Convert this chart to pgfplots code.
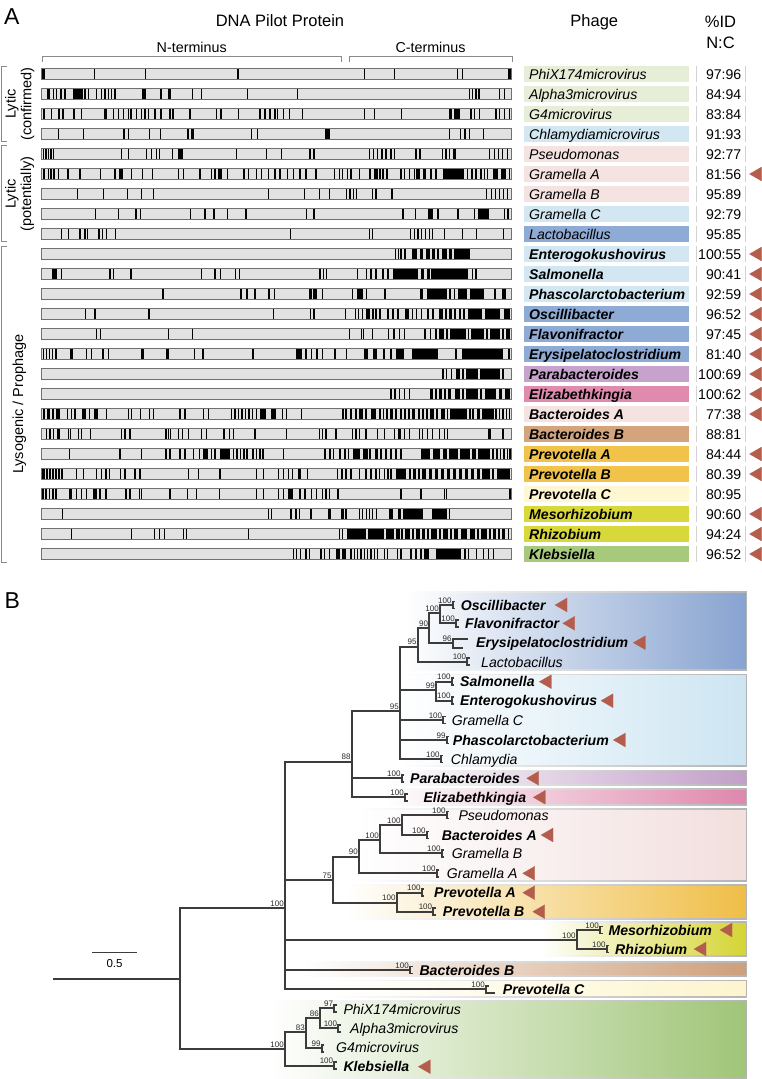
\documentclass[border=0pt]{standalone}
\usepackage{pgfplots}
\pgfplotsset{compat=1.18}
\usepackage{fontspec}
\setmainfont{Liberation Sans}
\definecolor{bardark}{HTML}{707070}
\definecolor{barfill}{HTML}{E2E2E2}
\definecolor{idb}{HTML}{D2D2D2}
\definecolor{cgr}{HTML}{E6EED7}
\definecolor{clb}{HTML}{D3E7F3}
\definecolor{clp}{HTML}{F5E3E2}
\definecolor{cdb}{HTML}{8EABD6}
\definecolor{cpu}{HTML}{C6A2CC}
\definecolor{cpk}{HTML}{E08AAE}
\definecolor{ctan}{HTML}{D4A57D}
\definecolor{cor}{HTML}{F1C34B}
\definecolor{cly}{HTML}{FFF7D1}
\definecolor{cyg}{HTML}{D9D83B}
\definecolor{cgn}{HTML}{A7C97C}
\definecolor{tri}{HTML}{B45D4D}
\definecolor{treec}{HTML}{3C3C3C}
\definecolor{bsc}{HTML}{2A2A2A}
\definecolor{brk}{HTML}{8A8A8A}
\definecolor{boxe}{HTML}{B4B4B4}
\definecolor{tb1}{HTML}{87A3D0}
\definecolor{tb2}{HTML}{CDE5F2}
\definecolor{tb3}{HTML}{C29FC8}
\definecolor{tb4}{HTML}{DE87AC}
\definecolor{tb5}{HTML}{F2DFDE}
\definecolor{tb6}{HTML}{EFBE47}
\definecolor{tb7}{HTML}{D5D433}
\definecolor{tb8}{HTML}{CE9F7A}
\definecolor{tb9}{HTML}{FDF5CE}
\definecolor{tb10}{HTML}{A0C578}
\newcommand\lab{\fontsize{14.1}{16}\selectfont}
\newcommand\hdr{\fontsize{16.5}{19}\selectfont}
\newcommand\tf{\fontsize{14.1}{16}\selectfont}
\newcommand\bsf{\fontsize{8}{9}\selectfont}
\newcommand\arow[4]{%
\addplot[line width=11.4pt, bardark] coordinates {(41.4,#1)(512,#1)};
\addplot[line width=10.2pt, barfill] coordinates {(42,#1)(511.4,#1)};
\addplot[line width=16.6pt, #2] coordinates {(524,#1)(689,#1)};
\addplot[line width=16.6pt, idb] coordinates {(696,#1)(746,#1)};
\addplot[line width=15.4pt, white] coordinates {(696.6,#1)(745.4,#1)};
\node[anchor=base west, inner sep=0pt, yshift=-5.2pt, font=\lab] at (axis cs:529,#1) {#3};
\node[anchor=base east, inner sep=0pt, yshift=-5.2pt, font=\lab] at (axis cs:741.5,#1) {#4};
}
\newcommand\thinrow[2]{\addplot[only marks, mark=|, mark size=5.1pt, line width=1.3pt, black] table[header=false, row sep=\\, x index=0, y expr=#1] {#2};}
\newcommand\blkrow[2]{\addplot[line width=10.2pt, black] table[header=false, row sep=\\, x index=0, y expr=#1] {#2};}
\tikzset{tree/.style={line width=1.8pt, treec, line cap=rect}}
\newcommand\tl[4]{\addplot[tree] coordinates {(#1,#2)(#3,#4)};}
\newcommand\inode[5]{\addplot[tree] coordinates {(#1,#3)(#2,#3)};\addplot[tree] coordinates {(#2,#4)(#2,#5)};}
\newcommand\leaf[3]{\pgfmathsetmacro\lA{#3-3.5}\pgfmathsetmacro\lB{#3+3.5}\pgfmathsetmacro\lC{#2+2.5}%
\addplot[tree] coordinates {(#1,#3)(#2,#3)};\addplot[tree, line cap=butt] coordinates {(\lC,\lA)(#2,\lA)(#2,\lB)(\lC,\lB)};}
\newcommand\bs[3]{\node[anchor=base east, inner sep=0pt, xshift=-1pt, yshift=2pt, font=\bsf, text=bsc] at (axis cs:#1,#2) {#3};}
\newcommand\tlab[4]{\node[anchor=base west, inner sep=0pt, yshift=-5pt, font=\tf#4] at (axis cs:#1,#2) {#3};}
\newcommand\gbox[5]{\pgfmathsetmacro\gA{#3+0.9}\pgfmathsetmacro\gB{#4-0.9}%
\addplot[draw=none, left color=white, right color=#5] coordinates {(#1,#3)(#2,#3)(#2,#4)(#1,#4)} --cycle;
\addplot[draw=none, left color=white, right color=boxe] coordinates {(#1,#3)(#2,#3)(#2,\gA)(#1,\gA)} --cycle;
\addplot[draw=none, left color=white, right color=boxe] coordinates {(#1,\gB)(#2,\gB)(#2,#4)(#1,#4)} --cycle;
\addplot[boxe, line width=0.9pt] coordinates {(#2,#3)(#2,#4)};}
\begin{document}
\begin{tikzpicture}
\begin{axis}[width=762pt,height=1079pt,scale only axis,xmin=0,xmax=762,ymin=0,ymax=1079,y dir=reverse,hide axis,clip=false,unbounded coords=jump]
\addplot[draw=none] coordinates {(0,0)(762,1079)};
% ---------- Panel A headings
\node[anchor=base, inner sep=0pt, font=\fontsize{23}{26}\selectfont] at (axis cs:11.7,24) {A};
\node[anchor=base, inner sep=0pt, font=\hdr] at (axis cs:280,26.7) {DNA Pilot Protein};
\node[anchor=base, inner sep=0pt, font=\hdr] at (axis cs:594.3,26.7) {Phage};
\node[anchor=base, inner sep=0pt, font=\hdr] at (axis cs:720.5,27.3) {\%ID};
\node[anchor=base, inner sep=0pt, font=\hdr] at (axis cs:720.5,48.3) {N:C};
\node[anchor=base, inner sep=0pt, font=\fontsize{14.3}{16}\selectfont] at (axis cs:191.7,52.3) {N-terminus};
\node[anchor=base, inner sep=0pt, font=\fontsize{14.3}{16}\selectfont] at (axis cs:430.5,52.3) {C-terminus};
\addplot[brk, line width=0.9pt] coordinates {(42.7,62)(42.7,56.5)(341,56.5)(341,62)};
\addplot[brk, line width=0.9pt] coordinates {(349.3,62)(349.3,56.5)(512.3,56.5)(512.3,62)};
\addplot[brk, line width=0.9pt] coordinates {(7.3,66.5)(1.5,66.5)(1.5,141.7)(7.3,141.7)};
\addplot[brk, line width=0.9pt] coordinates {(7.3,145.5)(1.5,145.5)(1.5,241.7)(7.3,241.7)};
\addplot[brk, line width=0.9pt] coordinates {(7.3,246)(1.5,246)(1.5,562)(7.3,562)};
\node[rotate=90, inner sep=0pt, font=\fontsize{14.5}{16}\selectfont] at (axis cs:12,104) {Lytic};
\node[rotate=90, inner sep=0pt, font=\fontsize{14.5}{16}\selectfont] at (axis cs:27.5,104) {(confirmed)};
\node[rotate=90, inner sep=0pt, font=\fontsize{14.5}{16}\selectfont] at (axis cs:12,194) {Lytic};
\node[rotate=90, inner sep=0pt, font=\fontsize{14.5}{16}\selectfont] at (axis cs:27.5,194) {(potentially)};
\node[rotate=90, inner sep=0pt, font=\fontsize{14.5}{16}\selectfont] at (axis cs:19.5,404) {Lysogenic / Prophage};
% ---------- rows
\arow{74}{cgr}{\itshape PhiX174microvirus}{97:96}
\arow{94}{cgr}{\itshape Alpha3microvirus}{84:94}
\arow{114}{cgr}{\itshape G4microvirus}{83:84}
\arow{134}{clb}{\itshape Chlamydiamicrovirus}{91:93}
\arow{154}{clp}{\itshape Pseudomonas}{92:77}
\arow{174}{clp}{\itshape Gramella A}{81:56}
\arow{194}{clp}{\itshape Gramella B}{95:89}
\arow{214}{clb}{\itshape Gramella C}{92:79}
\arow{234}{cdb}{\itshape Lactobacillus}{95:85}
\arow{254}{clb}{\bfseries\itshape Enterogokushovirus}{100:55}
\arow{274}{clb}{\bfseries\itshape Salmonella}{90:41}
\arow{294}{clb}{\bfseries\itshape Phascolarctobacterium}{92:59}
\arow{314}{cdb}{\bfseries\itshape Oscillibacter}{96:52}
\arow{334}{cdb}{\bfseries\itshape Flavonifractor}{97:45}
\arow{354}{cdb}{\bfseries\itshape Erysipelatoclostridium}{81:40}
\arow{374}{cpu}{\bfseries\itshape Parabacteroides}{100:69}
\arow{394}{cpk}{\bfseries\itshape Elizabethkingia}{100:62}
\arow{414}{clp}{\bfseries\itshape Bacteroides A}{77:38}
\arow{434}{ctan}{\bfseries\itshape Bacteroides B}{88:81}
\arow{454}{cor}{\bfseries\itshape Prevotella A}{84:44}
\arow{474}{cor}{\bfseries\itshape Prevotella B}{80.39}
\arow{494}{cly}{\bfseries\itshape Prevotella C}{80:95}
\arow{514}{cyg}{\bfseries\itshape Mesorhizobium}{90:60}
\arow{534}{cyg}{\bfseries\itshape Rhizobium}{94:24}
\arow{554}{cgn}{\bfseries\itshape Klebsiella}{96:52}
% ---------- variable-site marks
\thinrow{74}{94.7\\145.7\\238\\364.3\\394.3\\457.7\\462.7\\}
\blkrow{74}{42\\44.5\\nan\\508\\511.4\\}
\thinrow{94}{53.3\\56.7\\61\\65\\85\\88.3\\96.7\\101.7\\105\\108.3\\111.7\\115\\161\\192.7\\201.7\\247.7\\297.7\\469.3\\472.7\\476\\479\\499.5\\504.3\\}
\blkrow{94}{46.5\\50\\nan\\72.5\\82.5\\nan\\141.5\\146\\nan\\168\\171\\}
\thinrow{114}{51.7\\74\\81.7\\113.3\\118.3\\123.3\\128.3\\131\\136.7\\141.7\\145\\148.3\\155\\161\\190\\216.7\\221\\238.3\\260\\265\\270\\275\\277.7\\283.3\\289.3\\302.7\\364.3\\374.3\\401.5\\471\\474.3\\479.3\\496\\499.3\\504.3\\509.3\\}
\blkrow{114}{42.5\\45\\nan\\58.3\\60\\nan\\61.5\\64\\nan\\104\\106.7\\nan\\169\\171\\nan\\172\\173.5\\nan\\449\\451.5\\nan\\454\\460\\}
\thinrow{134}{58.3\\83.3\\124\\128.3\\149.3\\160.7\\251.7\\257.3\\449.3\\460.7\\465\\469.3\\483.3\\}
\blkrow{134}{187\\189\\nan\\190.5\\194\\nan\\325\\329.5\\}
\thinrow{154}{43.5\\46\\48.5\\51\\53.5\\121.7\\128.3\\146.7\\151.7\\156.7\\159.3\\172.7\\236.7\\266.7\\281.5\\310\\314\\369.3\\373.3\\377.7\\382\\386\\391\\394.3\\416\\420\\442.7\\446\\449.3\\489.3\\494.3\\498.7\\502.7\\507.7\\}
\blkrow{154}{178.3\\182.7\\nan\\452.7\\455.5\\}
\thinrow{174}{48.3\\51\\54\\58.3\\80\\100.7\\115\\131.7\\142.7\\152.7\\178.3\\183.3\\200\\211.7\\215\\227.3\\244\\248.3\\256.7\\261.7\\268.3\\275\\280\\287.3\\293.3\\300\\306\\316\\334.3\\339.3\\342.7\\347.7\\351\\359.3\\370\\380\\383\\387\\401\\404.3\\409.3\\414.3\\431\\436\\467.7\\472\\476\\481\\484.3\\487.7\\509.3\\}
\blkrow{174}{42.5\\45\\nan\\66.5\\68.5\\nan\\119\\123\\nan\\218\\222\\nan\\373.5\\377.5\\nan\\416\\419.5\\nan\\422.7\\426\\nan\\442.7\\464.3\\nan\\492.7\\497.7\\nan\\501\\506\\}
\thinrow{194}{77.3\\103.3\\127.3\\141.7\\153.3\\268.3\\304.5\\319.3\\329.5\\346.5\\350\\353.3\\356.5\\372.7\\376\\392\\486.7\\491.2\\495.5\\499.5\\503.5\\507.7\\}
\thinrow{214}{95.7\\118.3\\136\\140.7\\190.7\\205\\214\\227.7\\246\\306.7\\314\\403\\415.3\\438\\458\\474.3\\504.7\\508\\}
\blkrow{214}{428\\432.5\\nan\\478\\489\\}
\thinrow{234}{61.7\\68.3\\80\\85\\87.7\\99\\102.7\\106.7\\115.7\\290.8\\369.3\\372.2\\410.5\\414.3\\418\\421.7\\425.5\\429.5\\432.5\\444.7\\462.7\\476.3\\503.5\\}
\thinrow{254}{395.2\\398.5\\401\\405\\}
\blkrow{254}{412\\416.5\\nan\\419.5\\422.5\\nan\\426\\429.5\\nan\\432\\435\\nan\\437\\439\\nan\\441.5\\446.5\\nan\\448.5\\451.5\\nan\\453.5\\469.5\\}
\thinrow{274}{61.5\\110\\113.7\\131\\201.5\\215\\220.5\\235.5\\239.5\\320\\323.3\\326.7\\357.5\\366.5\\371\\376\\383\\388\\472.7\\476\\}
\blkrow{274}{51.5\\56.5\\nan\\393\\418\\nan\\421\\424.3\\nan\\427\\429.5\\nan\\431\\468\\}
\thinrow{294}{241\\247\\255\\269\\274.5\\322.7\\352.7\\366.7\\385\\450\\454.5\\495\\}
\blkrow{294}{161.5\\164\\nan\\309.3\\311.5\\nan\\312.5\\317.3\\nan\\357.3\\363.3\\nan\\420\\423\\nan\\427\\447\\nan\\458\\467\\nan\\469.5\\484\\nan\\502\\506\\}
\thinrow{314}{85.7\\95\\149\\273.5\\310.7\\314\\345.5\\355.5\\358.5\\362.5\\373\\376\\380\\388\\393\\398\\412.5\\416.5\\421.5\\428\\433\\446\\455\\460\\464\\}
\blkrow{314}{366\\369.5\\nan\\405\\408.5\\nan\\439\\443\\nan\\449\\452\\nan\\468\\482\\nan\\485\\500\\nan\\503.5\\509.5\\}
\thinrow{334}{96.5\\100.8\\168.2\\192.8\\349.3\\361.3\\363.8\\372.7\\388.5\\394\\399.3\\404.3\\425\\430.5\\436\\447\\468.5\\487\\503\\}
\blkrow{334}{439\\444\\nan\\450\\466\\nan\\471\\484\\nan\\490\\500\\nan\\506\\509.5\\}
\thinrow{354}{43.5\\46.5\\49.5\\52.5\\56\\86.3\\91.3\\103\\108.7\\194.7\\203\\253\\306\\311.5\\317\\322.7\\335\\346.5\\384\\391\\456\\509\\}
\blkrow{354}{69.5\\73\\nan\\141.3\\144\\nan\\166\\168.8\\nan\\296\\301.5\\nan\\363.5\\367.5\\nan\\373.3\\376.7\\nan\\396\\404\\nan\\412\\438\\nan\\462\\503\\}
\thinrow{374}{443\\446.5\\451.5\\463\\503\\}
\blkrow{374}{456\\460\\nan\\466\\477.5\\nan\\480\\499.5\\}
\thinrow{394}{391\\395\\399.5\\404.5\\409.5\\436\\445\\463\\481\\}
\blkrow{394}{430\\433\\nan\\439\\442\\nan\\448\\451\\nan\\455\\460\\nan\\466\\478\\nan\\485\\496\\nan\\499\\502\\nan\\505\\509.5\\}
\thinrow{414}{67.7\\71.7\\75\\89.3\\106.7\\128.3\\131.7\\140.7\\149.3\\153.3\\180\\185\\203.3\\208.3\\231.7\\235\\238.5\\242\\245.5\\249\\252.5\\256.5\\282.7\\286.7\\301.7\\343\\346\\351\\356\\366\\380\\383.5\\387\\396\\405\\409\\423\\427\\437\\447.5\\470\\473\\496\\499.5\\503\\506.5\\509.5\\}
\blkrow{414}{43\\45\\nan\\47\\50\\nan\\52\\54\\nan\\56\\60\\nan\\81.7\\86\\nan\\94\\98.3\\nan\\260\\266\\nan\\270.5\\276\\nan\\359\\363\\nan\\371\\376\\nan\\390\\393\\nan\\400\\402\\nan\\412\\415\\nan\\418\\420\\nan\\430\\434\\nan\\441\\445\\nan\\450\\467\\nan\\477\\480\\nan\\482\\494\\}
\thinrow{434}{46.7\\50\\53.3\\68.3\\70.7\\78.3\\81.7\\90.7\\121.7\\125\\130\\166\\168.5\\170.7\\178.3\\182.7\\188.3\\201.7\\206.7\\224\\229.3\\233.3\\255\\286.5\\319.5\\322.7\\326\\336\\352.7\\356\\359.3\\366\\377.7\\384.3\\394.3\\404.3\\409.3\\419.3\\422.7\\427.7\\432.7\\439.3\\444.3\\447.7\\503\\}
\blkrow{434}{56.7\\60\\nan\\397.7\\401\\nan\\487.7\\491\\}
\thinrow{454}{69.3\\120\\141.7\\166\\170\\180\\185\\193.3\\199.3\\211.7\\215\\233.5\\237\\240.5\\244\\247\\253\\256.5\\260\\263\\283.3\\325\\330\\333.3\\340\\345\\348.3\\370\\381\\386\\391\\396\\401\\493\\497\\500.5\\504\\507.5\\510\\}
\blkrow{454}{203.3\\208.3\\nan\\220\\230\\nan\\353.3\\360\\nan\\362.7\\367.7\\nan\\375\\378.3\\nan\\421\\430\\nan\\433\\440\\nan\\442.5\\447\\nan\\449\\458\\nan\\460\\470\\nan\\472\\476\\nan\\478\\490\\}
\thinrow{474}{47\\50\\53\\56\\59\\62\\76.7\\83.3\\96.7\\101.7\\106\\109.3\\120.7\\125\\135\\140\\188.3\\198.3\\220\\256.7\\263.3\\278.3\\283.3\\288.3\\292.7\\307.7\\337.7\\342\\346\\351\\359.3\\366\\371\\376\\379.3\\384.3\\388\\391\\410\\419\\493\\}
\blkrow{474}{42\\44.7\\nan\\297.7\\301\\nan\\396\\406\\nan\\413\\416\\nan\\422\\426\\nan\\429\\432\\nan\\435\\438\\nan\\441\\444\\nan\\447\\450\\nan\\453\\456\\nan\\459\\462\\nan\\465\\468\\nan\\471\\474\\nan\\477\\480\\nan\\482\\490\\nan\\497\\509.5\\}
\thinrow{494}{43\\46\\49.5\\53\\56\\76.7\\81.7\\86.7\\100\\106\\126\\130\\139.3\\141.7\\170\\187.7\\196.7\\219.3\\256.7\\263.3\\278.3\\283.3\\300\\305\\311.7\\316.7\\322.7\\326\\329.3\\338\\401\\421\\444.3\\446.7\\510\\}
\blkrow{494}{69\\71.7\\nan\\92.7\\96.7\\nan\\288.3\\293.3\\}
\thinrow{514}{62.7\\268.3\\271.7\\291\\296\\299.3\\311\\346\\359.3\\362.7\\366.5\\369.8\\372.7\\376.7\\449.3\\}
\blkrow{514}{327.5\\331\\nan\\341\\343.5\\nan\\388.5\\393\\nan\\398\\400.5\\nan\\403\\423\\nan\\432\\446.5\\}
\thinrow{534}{71.7\\131.7\\154.3\\159.3\\164.7\\183.3\\186.3\\248.3\\339.3\\342.7\\402\\413\\428\\440\\451\\478\\490\\499\\508.5\\}
\blkrow{534}{347\\366\\nan\\368\\384\\nan\\386\\394\\nan\\396\\400\\nan\\405\\410\\nan\\416\\420\\nan\\422\\425\\nan\\431\\437\\nan\\443\\448\\nan\\454\\458\\nan\\461\\467\\nan\\470\\475\\nan\\481\\487\\nan\\493\\496\\nan\\502\\505\\}
\thinrow{554}{293.3\\296.7\\300.7\\306\\309.3\\321\\324.3\\329.3\\351\\354.3\\357.7\\361\\364.3\\367.7\\371\\374.3\\377.7\\384.3\\387.7\\397.7\\401\\411\\416\\421\\465\\468.3\\476.5\\483.3\\488.3\\493.3\\}
\blkrow{554}{336\\340\\nan\\341.5\\346\\nan\\424.3\\429.3\\nan\\436\\461\\}
% triangles panel A
\addplot[only marks, mark=triangle*, mark size=8pt, mark options={rotate=90, fill=tri, draw=tri, line width=0.2pt}] coordinates {(757.5,174)(757.5,254)(757.5,274)(757.5,294)(757.5,314)(757.5,334)(757.5,354)(757.5,374)(757.5,394)(757.5,414)(757.5,454)(757.5,474)(757.5,514)(757.5,534)(757.5,554)};
% ---------- Panel B
\node[anchor=base, inner sep=0pt, font=\fontsize{23}{26}\selectfont] at (axis cs:12.3,608.3) {B};
\gbox{405}{746.5}{591.5}{670}{tb1}
\gbox{398}{746.5}{674}{766.7}{tb2}
\gbox{385}{746.5}{770}{785.7}{tb3}
\gbox{385}{746.5}{788.7}{805}{tb4}
\gbox{355}{746.5}{808.3}{881.7}{tb5}
\gbox{345}{746.5}{884.3}{919.3}{tb6}
\gbox{540}{746.5}{921.7}{956.7}{tb7}
\gbox{300}{746.5}{961.7}{976.7}{tb8}
\gbox{330}{746.5}{980}{997.3}{tb9}
\gbox{270}{746.5}{1000}{1078.3}{tb10}
% tree
\tl{54.3}{979}{180}{979}
\tl{180}{908.3}{180}{1049}
\inode{180}{285}{908.3}{761.7}{989.3}\bs{285}{908.3}{100}
\inode{180}{285}{1049}{1032.3}{1065.7}\bs{285}{1049}{100}
\inode{285}{351.7}{761.7}{711}{797.3}\bs{351.7}{761.7}{88}
\inode{351.7}{400}{711}{646.7}{759}\bs{400}{711}{95}
\inode{400}{417.7}{646.7}{628.3}{661.7}\bs{417.7}{646.7}{95}
\inode{417.7}{429.3}{628.3}{613.3}{643.3}\bs{429.3}{628.3}{90}
\inode{429.3}{440}{613.3}{605}{623.3}\bs{440}{613.3}{100}
\leaf{440}{452.7}{605}\bs{452.7}{605}{100}
\leaf{440}{456}{623.3}\bs{456}{623.3}{100}
\tl{429.3}{643.3}{452.7}{643.3}
\addplot[tree, line cap=butt] coordinates {(468.3,639)(452.7,639)(452.7,648.3)(463.3,648.3)};
\bs{452.7}{643.3}{96}
\leaf{417.7}{467.3}{661.7}\bs{467.3}{661.7}{100}
\inode{400}{436}{690}{681.7}{700.7}\bs{436}{690}{99}
\leaf{436}{451.7}{681.7}\bs{451.7}{681.7}{100}
\leaf{436}{451.7}{700.7}\bs{451.7}{700.7}{100}
\leaf{400}{443.3}{720}\bs{443.3}{720}{100}
\leaf{400}{446.7}{740}\bs{446.7}{740}{99}
\leaf{400}{440.7}{759}\bs{440.7}{759}{100}
\leaf{351.7}{401.7}{778.3}\bs{401.7}{778.3}{100}
\leaf{351.7}{405}{797.3}\bs{405}{797.3}{100}
\inode{285}{332.7}{880}{856.7}{902.7}\bs{332.7}{880}{75}
\inode{332.7}{359}{856.7}{840}{873.3}\bs{359}{856.7}{90}
\inode{359}{380}{840}{825}{853.3}\bs{380}{840}{100}
\inode{380}{401.7}{825}{815}{835}\bs{401.7}{825}{100}
\leaf{401.7}{446.7}{815}\bs{446.7}{815}{100}
\leaf{401.7}{426.7}{835}\bs{426.7}{835}{100}
\leaf{380}{441.7}{853.3}\bs{441.7}{853.3}{100}
\leaf{359}{436.7}{873.3}\bs{436.7}{873.3}{100}
\inode{332.7}{396.7}{902.7}{892.7}{911.7}\bs{396.7}{902.7}{100}
\leaf{396.7}{421.7}{892.7}\bs{421.7}{892.7}{100}
\leaf{396.7}{433.3}{911.7}\bs{433.3}{911.7}{100}
\inode{285}{576.7}{940}{930}{949}\bs{576.7}{940}{100}
\leaf{576.7}{600}{930}\bs{600}{930}{100}
\leaf{576.7}{606.7}{949}\bs{606.7}{949}{100}
\leaf{285}{410}{970}\bs{410}{970}{100}
\tl{285}{989.3}{486}{989.3}
\addplot[tree, line cap=butt] coordinates {(488.5,985.8)(486,985.8)(486,992.8)(495,992.8)};
\bs{486}{989.3}{100}
\inode{285}{306}{1032.3}{1018.3}{1048.3}\bs{306}{1032.3}{83}
\inode{306}{320}{1018.3}{1008.3}{1028.3}\bs{320}{1018.3}{86}
\leaf{320}{334.3}{1008.3}\bs{334.3}{1008.3}{97}
\leaf{320}{338.3}{1028.3}\bs{338.3}{1028.3}{100}
\leaf{306}{321.7}{1048.3}\bs{321.7}{1048.3}{99}
\leaf{285}{334.3}{1065.7}\bs{334.3}{1065.7}{100}
% tree labels
\tlab{460.7}{605}{Oscillibacter}{\bfseries\itshape}
\tlab{465}{623.3}{Flavonifractor}{\bfseries\itshape}
\tlab{476}{642.7}{Erysipelatoclostridium}{\bfseries\itshape}
\tlab{481}{662}{Lactobacillus}{\itshape}
\tlab{460}{681.7}{Salmonella}{\bfseries\itshape}
\tlab{460}{700.7}{Enterogokushovirus}{\bfseries\itshape}
\tlab{451.7}{720}{Gramella C}{\itshape}
\tlab{452.7}{740}{Phascolarctobacterium}{\bfseries\itshape}
\tlab{450.7}{759}{Chlamydia}{\itshape}
\tlab{410}{778.3}{Parabacteroides}{\bfseries\itshape}
\tlab{423.3}{797.3}{Elizabethkingia}{\bfseries\itshape}
\tlab{458.3}{815}{Pseudomonas}{\itshape}
\tlab{441.7}{835}{Bacteroides A}{\bfseries\itshape}
\tlab{451.7}{853.3}{Gramella B}{\itshape}
\tlab{446.7}{873.3}{Gramella A}{\itshape}
\tlab{434}{892.7}{Prevotella A}{\bfseries\itshape}
\tlab{442.7}{911.7}{Prevotella B}{\bfseries\itshape}
\tlab{608.3}{930}{Mesorhizobium}{\bfseries\itshape}
\tlab{615}{949}{Rhizobium}{\bfseries\itshape}
\tlab{419.3}{970}{Bacteroides B}{\bfseries\itshape}
\tlab{502.7}{989}{Prevotella C}{\bfseries\itshape}
\tlab{343.3}{1009}{PhiX174microvirus}{\itshape}
\tlab{350}{1028.3}{Alpha3microvirus}{\itshape}
\tlab{336}{1047.3}{G4microvirus}{\itshape}
\tlab{343.3}{1066.7}{Klebsiella}{\bfseries\itshape}
\addplot[only marks, mark=triangle*, mark size=8pt, mark options={rotate=90, fill=tri, draw=tri, line width=0.2pt}] coordinates {(563,605)(570.7,623.3)(641.3,642.7)(547.3,681.7)(609,700.7)(621.3,740)(534.7,778.3)(541.3,797.3)(549,835)(530.7,873.3)(530.7,892.7)(540.7,911.7)(728,930)(702,949)(426.3,1066.7)};
% scale bar
\addplot[line width=1pt, treec] coordinates {(92.3,952.3)(136.7,952.3)};
\node[anchor=base, inner sep=0pt, font=\fontsize{11.5}{13}\selectfont] at (axis cs:114.5,967.3) {0.5};
\end{axis}
\end{tikzpicture}
\end{document}
